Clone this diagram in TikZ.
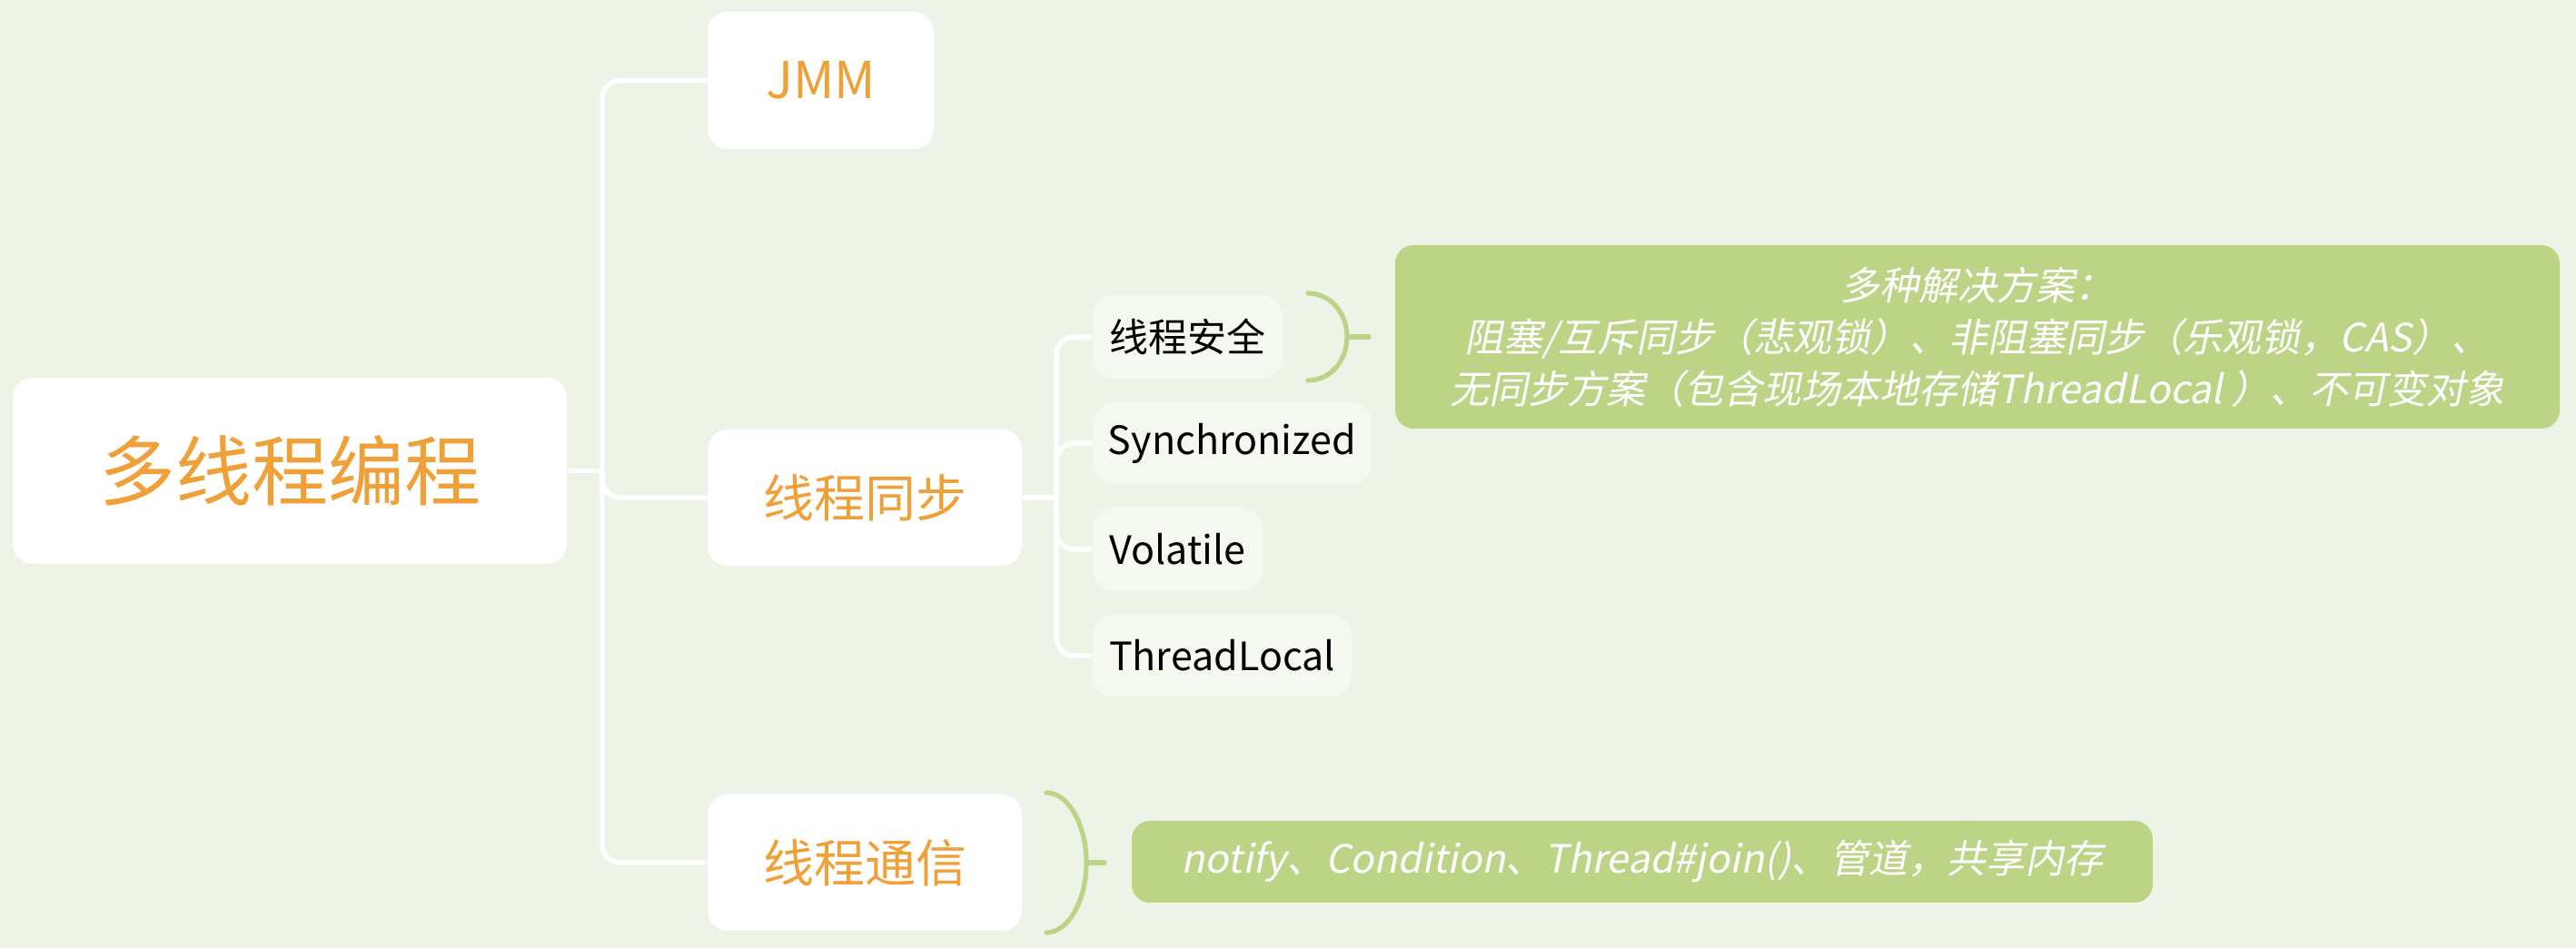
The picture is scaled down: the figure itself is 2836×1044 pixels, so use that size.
\documentclass[tikz,border=0pt]{standalone}
\usepackage{fontspec}
\setmainfont{Noto Sans CJK SC}
\newfontfamily\slfont[FakeSlant=0.2]{Noto Sans CJK SC}
\usetikzlibrary{calc}
\definecolor{bgc}{RGB}{238,243,231}
\definecolor{subc}{RGB}{245,248,240}
\definecolor{grn}{RGB}{189,211,134}
\definecolor{org}{RGB}{240,160,56}
\begin{document}
\begin{tikzpicture}[x=0.25pt,y=-0.25pt,
  mainbox/.style={fill=white,rounded corners=5.5pt,inner sep=0pt,text=org},
  subbox/.style={fill=subc,rounded corners=6pt,inner sep=0pt,text=black,font=\fontsize{10.75pt}{13pt}\selectfont},
  callout/.style={fill=grn,rounded corners=5pt,inner sep=0pt,text=white,align=center,font=\slfont\fontsize{10.75pt}{14.25pt}\selectfont},
  conn/.style={draw=white,line width=1.35pt,rounded corners=5pt},
  brk/.style={draw=grn,line width=1.3pt,line cap=round}]
\fill[bgc] (0,0) rectangle (2836,1044);
\useasboundingbox (0,0) rectangle (2836,1044);

\node[mainbox,minimum width=152.5pt,minimum height=51.25pt,font=\fontsize{21pt}{25pt}\selectfont] (root) at (319,518.5) {多线程编程};
\node[mainbox,minimum width=62.25pt,minimum height=37.75pt,font=\fontsize{14pt}{17pt}\selectfont] (jmm) at (903.5,88.5) {JMM};
\node[mainbox,minimum width=86.5pt,minimum height=37.5pt,font=\fontsize{14pt}{17pt}\selectfont] (sync) at (952,548) {线程同步};
\node[mainbox,minimum width=86.5pt,minimum height=37.5pt,font=\fontsize{14pt}{17pt}\selectfont] (comm) at (952,950) {线程通信};

\node[subbox,minimum width=52.25pt,minimum height=23pt] (s1) at (1307.5,371) {线程安全};
\node[subbox,minimum width=76.75pt,minimum height=22.5pt] (s2) at (1356.5,488) {Synchronized};
\node[subbox,minimum width=46.75pt,minimum height=23pt] (s3) at (1296.5,605) {Volatile};
\node[subbox,minimum width=71.25pt,minimum height=22.5pt] (s4) at (1345.5,722) {ThreadLocal};

\node[callout,minimum width=320.5pt,minimum height=50.5pt] (c1) at (2177,371) {多种解决方案：\\阻塞/互斥同步（悲观锁）、非阻塞同步（乐观锁，CAS）、\\无同步方案（包含现场本地存储ThreadLocal ）、不可变对象};
\node[callout,minimum width=281pt,minimum height=22.5pt] (c2) at (1808,949) {notify、Condition、Thread\#join()、管道，共享内存};

% main connectors
\coordinate (t0) at (663,518.5);
\draw[conn] (root.east) -- (t0);
\draw[conn] (t0) |- (jmm.west);
\draw[conn] (t0) |- (sync.west);
\draw[conn] (t0) |- (comm.west);

% sub connectors
\coordinate (t1) at (1163,548);
\draw[conn] (sync.east) -- (t1);
\draw[conn] (t1) |- (s1.west);
\draw[conn] (t1) |- (s2.west);
\draw[conn] (t1) |- (s3.west);
\draw[conn] (t1) |- (s4.west);

% brackets
\coordinate (b1t) at (1440,323);
\coordinate (b1m) at (1483,371);
\coordinate (b1b) at (1440,419);
\coordinate (b1e) at (1507,371);
\draw[brk] (b1t) .. controls (1464,323) and (1483,344) .. (b1m) .. controls (1483,398) and (1464,419) .. (b1b);
\draw[brk] (b1m) -- (b1e);

\coordinate (b2t) at (1152,873);
\coordinate (b2m) at (1196,950);
\coordinate (b2b) at (1152,1027);
\coordinate (b2e) at (1216,950);
\draw[brk] (b2t) .. controls (1176,873) and (1196,908) .. (b2m) .. controls (1196,992) and (1176,1027) .. (b2b);
\draw[brk] (b2m) -- (b2e);
\end{tikzpicture}
\end{document}
